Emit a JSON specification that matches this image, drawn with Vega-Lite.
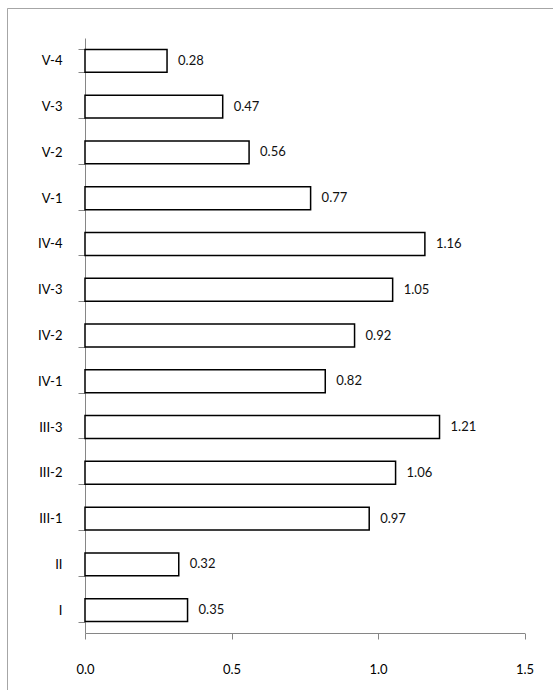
{
  "$schema": "https://vega.github.io/schema/vega-lite/v6.json",
  "width": 546,
  "height": 682,
  "autosize": {"type": "none"},
  "padding": {"left": 7, "top": 8, "right": 0, "bottom": 0},
  "background": "white",
  "config": {
    "view": {"stroke": "#a6a6a6", "strokeWidth": 1, "strokeDash": [546, 1228, 682]},
    "font": "Lato"
  },
  "data": {
    "values": [
      {"label": "V-4", "value": 0.28},
      {"label": "V-3", "value": 0.47},
      {"label": "V-2", "value": 0.56},
      {"label": "V-1", "value": 0.77},
      {"label": "IV-4", "value": 1.16},
      {"label": "IV-3", "value": 1.05},
      {"label": "IV-2", "value": 0.92},
      {"label": "IV-1", "value": 0.82},
      {"label": "III-3", "value": 1.21},
      {"label": "III-2", "value": 1.06},
      {"label": "III-1", "value": 0.97},
      {"label": "II", "value": 0.32},
      {"label": "I", "value": 0.35}
    ]
  },
  "encoding": {
    "y": {
      "field": "label",
      "type": "nominal",
      "sort": null,
      "scale": {"range": [30, 625], "paddingInner": 0.5, "paddingOuter": 0.25},
      "axis": {
        "title": null,
        "orient": "left",
        "offset": -78,
        "tickBand": "extent",
        "domainColor": "#868686",
        "tickColor": "#868686",
        "domainWidth": 1,
        "tickWidth": 1,
        "tickSize": 7,
        "labelPadding": 16,
        "labelFontSize": 13,
        "labelFont": "Lato",
        "labelFontWeight": "normal",
        "labelColor": "#000000"
      }
    },
    "x": {
      "field": "value",
      "type": "quantitative",
      "scale": {"domain": [0, 1.5], "range": [78, 517.5], "nice": false, "zero": true},
      "axis": {
        "title": null,
        "orient": "bottom",
        "offset": -57,
        "values": [0, 0.5, 1, 1.5],
        "format": ".1f",
        "grid": false,
        "labelFlush": false,
        "domainColor": "#868686",
        "tickColor": "#868686",
        "domainWidth": 1,
        "tickWidth": 1,
        "tickSize": 6,
        "labelPadding": 24,
        "labelFontSize": 13,
        "labelFont": "Lato",
        "labelFontWeight": "normal",
        "labelColor": "#000000"
      }
    }
  },
  "layer": [
    {"mark": {"type": "bar", "fill": "white", "stroke": "#000000", "strokeWidth": 1.5}},
    {
      "mark": {"type": "text", "align": "left", "baseline": "middle", "dx": 11, "fontSize": 13, "font": "Lato", "color": "#111111"},
      "encoding": {"text": {"field": "value", "type": "quantitative", "format": ".2f"}}
    }
  ]
}
